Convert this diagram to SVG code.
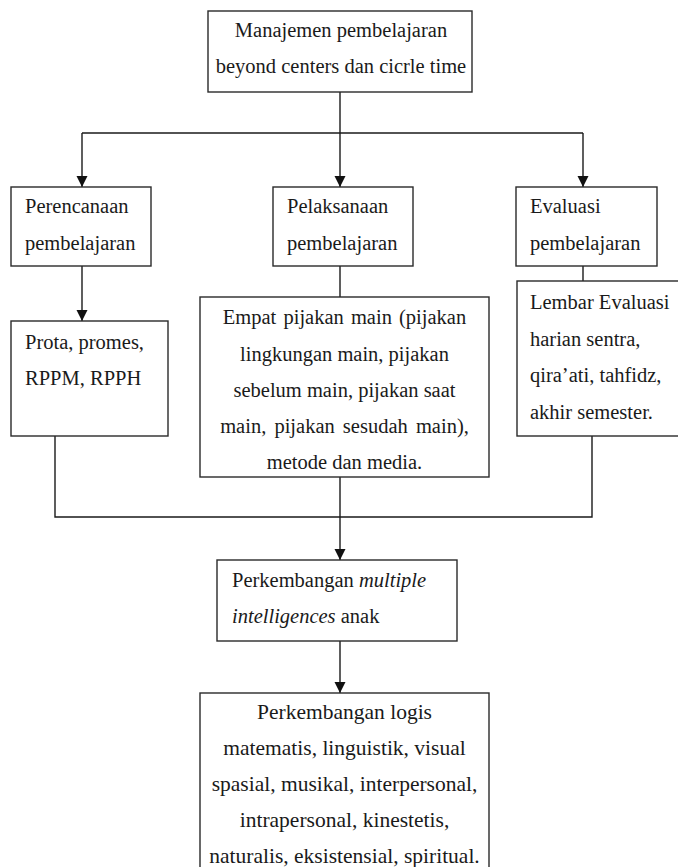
<svg xmlns="http://www.w3.org/2000/svg" width="678" height="867" viewBox="0 0 678 867">
<style>
  .box { fill: #ffffff; stroke: #2a2a2a; stroke-width: 1.4; }
  .conn { fill: none; stroke: #1a1a1a; stroke-width: 1.4; }
  text { font-family: "Liberation Serif", "Times New Roman", serif; font-size: 20.5px; fill: #1a1a1a; }
  .c { text-anchor: middle; }
  .i { font-style: italic; }
  .big { font-size: 21.5px; }
</style>
<defs>
  <marker id="arr" markerUnits="userSpaceOnUse" markerWidth="12" markerHeight="12" refX="11" refY="5.5" orient="auto">
    <path d="M0,0 L11,5.5 L0,11 z" fill="#111111"/>
  </marker>
</defs>
<rect width="678" height="867" fill="#ffffff"/>

<g id="connectors">
  <path class="conn" d="M340,92 V187" marker-end="url(#arr)"/>
  <path class="conn" d="M82,133 H583"/>
  <path class="conn" d="M82,133 V187" marker-end="url(#arr)"/>
  <path class="conn" d="M583,133 V187" marker-end="url(#arr)"/>
  <path class="conn" d="M82,266 V321" marker-end="url(#arr)"/>
  <path class="conn" d="M340,266 V297"/>
  <path class="conn" d="M583,266 V281"/>
  <path class="conn" d="M55,436 V517 H592 V436"/>
  <path class="conn" d="M340,477 V560" marker-end="url(#arr)"/>
  <path class="conn" d="M340,641 V693" marker-end="url(#arr)"/>
</g>

<g id="top">
  <rect class="box" x="208" y="11" width="264" height="81"/>
  <text class="c" x="341" y="37">Manajemen pembelajaran</text>
  <text class="c" x="341" y="73">beyond centers dan cicrle time</text>
</g>

<g id="perencanaan">
  <rect class="box" x="11" y="187" width="140" height="79"/>
  <text x="25" y="213">Perencanaan</text>
  <text x="25" y="250">pembelajaran</text>
</g>

<g id="pelaksanaan">
  <rect class="box" x="273" y="187" width="140" height="79"/>
  <text x="287" y="213">Pelaksanaan</text>
  <text x="287" y="250">pembelajaran</text>
</g>

<g id="evaluasi">
  <rect class="box" x="516" y="187" width="141" height="79"/>
  <text x="530" y="213">Evaluasi</text>
  <text x="530" y="250">pembelajaran</text>
</g>

<g id="prota">
  <rect class="box" x="11" y="321" width="157" height="115"/>
  <text x="25" y="349">Prota, promes,</text>
  <text x="25" y="385">RPPM, RPPH</text>
</g>

<g id="empat">
  <rect class="box" x="200" y="297" width="289" height="180"/>
  <text class="c" x="344.5" y="324" style="word-spacing:2px">Empat pijakan main (pijakan</text>
  <text class="c" x="344.5" y="361">lingkungan main, pijakan</text>
  <text class="c" x="344.5" y="397">sebelum main, pijakan saat</text>
  <text class="c" x="344.5" y="433" style="word-spacing:3px">main, pijakan sesudah main),</text>
  <text class="c" x="344.5" y="469">metode dan media.</text>
</g>

<g id="lembar">
  <rect class="box" x="517" y="281" width="180" height="155"/>
  <text x="530" y="309">Lembar Evaluasi</text>
  <text x="530" y="346">harian sentra,</text>
  <text x="530" y="382">qira’ati, tahfidz,</text>
  <text x="530" y="419">akhir semester.</text>
</g>

<g id="multiple">
  <rect class="box" x="217" y="560" width="240" height="81"/>
  <text x="232" y="587">Perkembangan <tspan class="i">multiple</tspan></text>
  <text x="232" y="623"><tspan class="i">intelligences</tspan> anak</text>
</g>

<g id="bottom">
  <rect class="box" x="200" y="693" width="289" height="190"/>
  <text class="c big" x="344.5" y="719">Perkembangan logis</text>
  <text class="c big" x="344.5" y="755">matematis, linguistik, visual</text>
  <text class="c big" x="344.5" y="791">spasial, musikal, interpersonal,</text>
  <text class="c big" x="344.5" y="827">intrapersonal, kinestetis,</text>
  <text class="c big" x="344.5" y="863">naturalis, eksistensial, spiritual.</text>
</g>
</svg>
